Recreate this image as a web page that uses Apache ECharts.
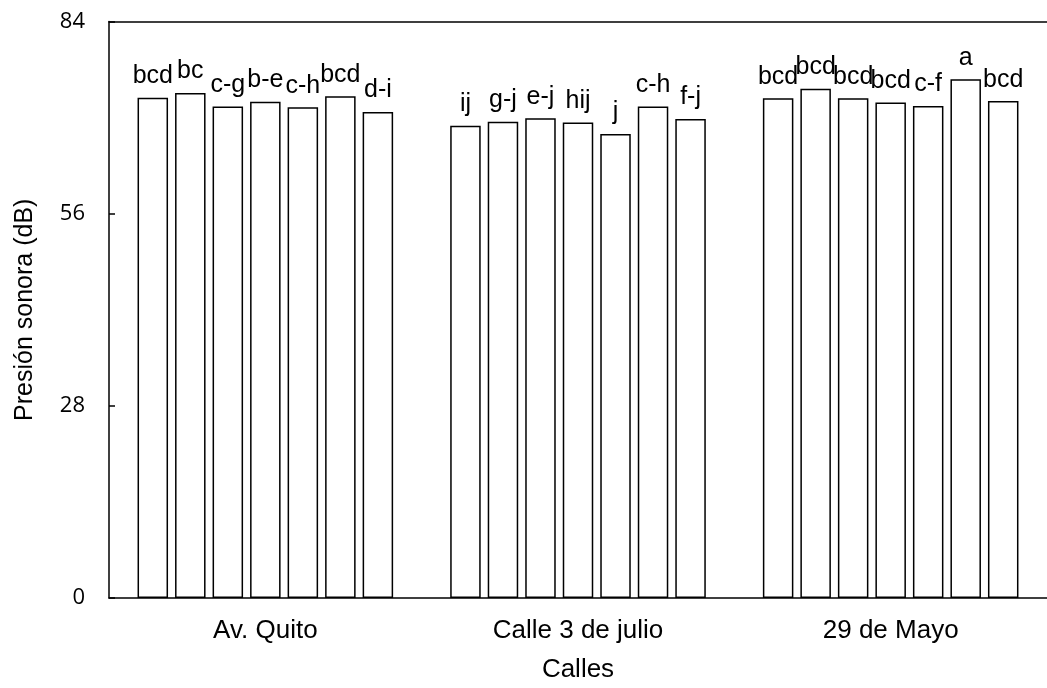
<!DOCTYPE html>
<html>
<head>
<meta charset="utf-8">
<script src="https://cdn.jsdelivr.net/npm/echarts@6/dist/echarts.min.js"></script>
<style>
  html, body { margin: 0; padding: 0; background: #fff; }
  #chart { width: 1047px; height: 688px; }
</style>
</head>
<body>
<div id="chart"></div>
<script>
// data
var calles = ['Av. Quito', 'Calle 3 de julio', '29 de Mayo'];
var avQuito = [72.9, 73.6, 71.6, 72.3, 71.5, 73.1, 70.8];
var calle3Julio = [68.8, 69.4, 69.9, 69.3, 67.6, 71.6, 69.8];
var mayo29 = [72.8, 74.2, 72.8, 72.2, 71.7, 75.6, 72.4];
var letrasQuito = ['bcd', 'bc', 'c-g', 'b-e', 'c-h', 'bcd', 'd-i'];
var letrasJulio = ['ij', 'g-j', 'e-j', 'hij', 'j', 'c-h', 'f-j'];
var letrasMayo = ['bcd', 'bcd', 'bcd', 'bcd', 'c-f', 'a', 'bcd'];
var yTicks = [0, 28, 56, 84];

var myChart = echarts.init(document.getElementById('chart'));

var series = [];
for (let i = 0; i < avQuito.length; i++) {
    let letras = [letrasQuito[i], letrasJulio[i], letrasMayo[i]];
    series.push({
        type: 'bar',
        xAxisIndex: 0,
        data: [avQuito[i], calle3Julio[i], mayo29[i]],
        barWidth: 30.5,
        barGap: '23%',
        itemStyle: {
            color: '#fff',
            borderColor: '#000',
            borderWidth: 1.5
        },
        label: {
            show: true,
            position: 'top',
            distance: 9,
            color: '#000',
            fontFamily: 'Liberation Sans',
            fontSize: 25,
            formatter: function (p) { return letras[p.dataIndex]; }
        }
    });
}

var option = {
    animation: false,
    grid: { left: 109, right: 0, top: 21.5, bottom: 84 },
    xAxis: [{
        type: 'category',
        data: calles,
        name: 'Calles',
        nameLocation: 'middle',
        nameGap: 59,
        nameTextStyle: { color: '#000', fontFamily: 'Liberation Sans', fontSize: 26 },
        axisLine: { lineStyle: { color: '#000', width: 1.5 } },
        axisTick: { show: false },
        axisLabel: { color: '#000', fontFamily: 'Liberation Sans', fontSize: 26, margin: 20 }
    }, {
        type: 'category',
        position: 'top',
        data: calles,
        axisLine: { lineStyle: { color: '#000', width: 1.5 } },
        axisTick: { show: false },
        axisLabel: { show: false }
    }],
    yAxis: {
        type: 'value',
        min: yTicks[0],
        max: yTicks[yTicks.length - 1],
        interval: 28,
        name: 'Presión sonora (dB)',
        nameLocation: 'middle',
        nameGap: 71,
        nameTextStyle: { color: '#000', fontFamily: 'Liberation Sans', fontSize: 25 },
        axisLine: { show: true, lineStyle: { color: '#000', width: 1.5 } },
        axisTick: { show: true, inside: true, length: 6, lineStyle: { color: '#000', width: 1.5 } },
        axisLabel: { color: '#000', fontFamily: 'Open Sans', fontSize: 22, margin: 24 },
        splitLine: { show: false }
    },
    series: series
};

myChart.setOption(option);
</script>
</body>
</html>
